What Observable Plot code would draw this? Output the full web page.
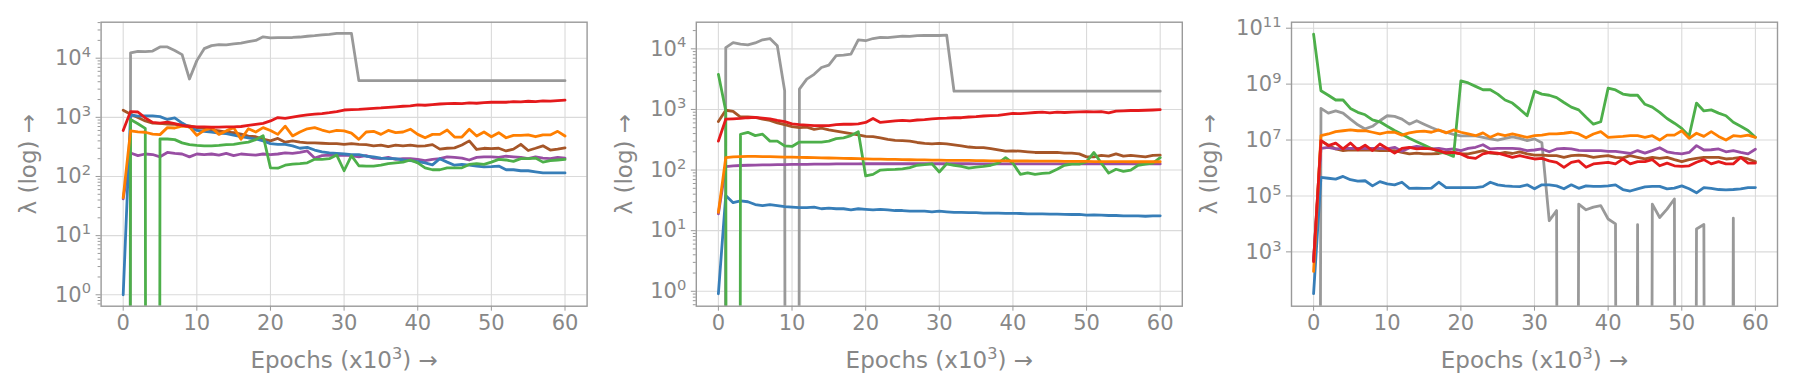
<!DOCTYPE html>
<html><head><meta charset="utf-8">
<script src="https://cdn.jsdelivr.net/npm/d3@7"></script>
<script src="https://cdn.jsdelivr.net/npm/@observablehq/plot@0.6"></script>
<style>
html,body{margin:0;padding:0;background:#fff;}
#fig{display:flex;width:1794px;height:388px;overflow:hidden;}
#fig svg{display:block;flex:none;}
</style></head><body><div id="fig"></div>
<script>
// ---------- data ----------
const epochs = [0,1,2,3,4,5,6,7,8,9,10,11,12,13,14,15,16,17,18,19,20,21,22,23,24,25,26,27,28,29,30,31,32,33,34,35,36,37,38,39,40,41,42,43,44,45,46,47,48,49,50,51,52,53,54,55,56,57,58,59,60];
const xTicks = [0,10,20,30,40,50,60];
const seriesNames = ["series G","series F","series D","series B","series C","series E","series A"];
const seriesColors = ["#999999","#a65628","#984ea3","#377eb8","#4daf4a","#ff7f00","#e41a1c"];
const xLabel = "Epochs (x10\u00b3) \u2192";
const yLabel = "\u03bb (log) \u2192";

// panel 1
const p1Gray = [0,12300,13000,12900,13200,15500,15500,13500,11500,4450,
  9100,14500,16300,17000,16800,17500,18000,19000,20000,23000,
  22000,22300,22300,22400,22800,23500,24000,24800,25300,26200,
  26300,26300,4170,4170,4170,4170,4170,4170,4170,4170,
  4170,4170,4170,4170,4170,4170,4170,4170,4170,4170,
  4170,4170,4170,4170,4170,4170,4170,4170,4170,4170,4170];
const p1Red = [600,1250,1230,980,820,800,830,780,730,700,
  690,690,680,685,690,690,700,730,760,790,
  870,990,960,1010,1060,1100,1130,1160,1200,1250,
  1330,1350,1360,1390,1420,1440,1470,1500,1540,1560,
  1620,1600,1640,1680,1700,1720,1700,1750,1730,1770,
  1800,1810,1800,1850,1830,1870,1850,1900,1880,1920,1950];
const p1Orange = [44,590,570,560,520,510,670,660,710,690,
  495,600,670,515,590,670,425,640,565,670,
  600,515,710,485,565,640,670,610,565,600,
  590,540,424,565,580,515,600,550,565,630,
  515,452,515,515,610,464,464,630,483,565,
  470,550,452,495,495,505,470,505,505,580,483];
const p1Brown = [1320,1130,990,870,800,790,770,760,740,714,
  670,650,611,590,560,550,520,480,470,430,
  400,440,380,400,380,370,370,365,360,360,
  350,360,350,345,330,340,320,340,330,340,
  326,330,345,290,300,305,340,400,286,300,
  295,300,270,290,350,275,300,330,280,290,305];
const p1Blue = [1.0,1100,1050,1060,1060,1030,920,980,800,680,
  600,580,560,540,530,500,470,450,430,400,
  360,350,350,330,300,310,280,260,250,245,
  240,235,235,220,215,205,200,200,190,185,
  178,170,157,200,175,155,160,155,150,145,
  147,150,130,130,125,125,120,115,115,115,115];
const p1Purple = [42,250,225,240,235,215,255,245,240,215,
  240,235,240,230,245,225,240,235,230,240,
  235,240,250,245,255,270,205,225,230,225,
  230,225,215,225,205,200,210,195,200,200,
  195,185,195,200,215,210,205,190,210,215,
  215,210,220,215,210,200,215,205,200,210,205];
const p1Green = [0,920,780,650,0,430,430,420,370,345,
  335,330,330,335,345,350,365,380,420,490,
  140,138,155,162,165,170,195,195,200,230,
  125,225,152,150,150,155,165,170,175,190,
  170,140,130,130,140,140,140,160,165,160,
  175,195,190,180,200,200,205,175,185,190,195];

// panel 2
const p2Gray = [0,10500,12700,12000,11600,12500,14100,14800,11200,2040,
  0,2160,3170,3800,4920,5400,7700,7900,8200,14100,
  13600,14800,15500,15300,15800,16200,16000,16500,16700,16600,
  16600,16800,2000,2000,2000,2000,2000,2000,2000,2000,
  2000,2000,2000,2000,2000,2000,2000,2000,2000,2000,
  2000,2000,2000,2000,2000,2000,2000,2000,2000,2000,2000];
const p2Red = [300,690,700,710,730,740,720,700,660,630,
  580,560,550,540,540,540,560,570,570,580,
  610,710,610,630,650,660,650,670,680,700,
  715,720,730,730,750,760,780,790,800,830,
  860,850,870,890,900,880,900,890,900,910,
  920,910,920,880,940,950,960,960,970,980,990];
const p2Brown = [630,970,930,750,750,740,690,660,600,560,
  520,500,510,470,490,460,440,420,400,380,
  360,355,340,320,310,305,300,285,275,270,
  275,270,260,250,240,235,235,225,215,205,
  208,205,200,195,195,195,195,190,190,185,
  165,165,175,170,185,170,175,170,165,175,176];
const p2Green = [3800,950,0,390,420,370,390,300,300,250,
  245,290,290,290,290,300,330,340,370,430,
  80,85,100,102,103,105,110,120,123,127,
  93,127,120,115,108,112,115,120,130,160,
  130,85,90,85,88,90,103,120,125,125,
  138,195,130,89,103,95,100,120,125,130,160];
const p2Orange = [20,160,165,167,168,168,167,166,165,164,
  163,162,161,160,159,158,157,156,155,154,
  153,152,151,150,150,149,148,147,147,146,
  146,145,145,144,144,143,143,142,142,142,
  141,141,141,140,140,140,140,139,139,139,
  139,138,138,138,138,138,137,137,137,137,137];
const p2Purple = [19,114,117,119,120,121,122,122,123,123,
  124,124,124,125,125,125,126,126,126,126,
  127,127,127,127,127,127,127,127,127,127,
  127,127,127,127,127,126,126,126,126,126,
  126,126,126,126,126,126,126,126,126,126,
  126,126,126,126,126,126,126,126,126,126,126];
const p2Blue = [0.91,38,29,31,30,27,26,27,26,25,
  24.5,24,24,24.5,23,23.5,23,23,22,23,
  22.5,22,22.5,22,21.5,21.5,21,21,21,20.5,
  21,20.5,20,20,19.8,19.8,19.5,19.5,19.5,19.3,
  19.3,19.2,19,19,19,18.8,18.8,18.6,18.5,18.5,
  18,18.2,18,17.8,17.8,17.5,17.5,17.5,17.3,17.5,17.6];

// panel 3
const p3Green = [6.1e10,5.8e8,4e8,2.7e8,2.7e8,1.35e8,9.8e7,8e7,5.3e7,4.5e7,
  3.1e7,2.2e7,1.6e7,1.15e7,8.7e6,6.6e6,5e6,3.8e6,3.3e6,2.6e6,
  1.3e9,1.1e9,8.3e8,6.3e8,6.3e8,4.4e8,2.7e8,2.1e8,1.27e8,7.4e7,
  5.6e8,4.4e8,4e8,3.3e8,2.2e8,1.5e8,1.2e8,6.5e7,3.7e7,4.5e7,
  7.2e8,6.2e8,4.4e8,4e8,4e8,1.9e8,1.5e8,9.8e7,5.9e7,4e7,
  2.6e7,1.4e7,2.1e8,1.1e8,1.2e8,9.2e7,7.4e7,4.3e7,3.1e7,2.2e7,1.25e7];
const p3Gray = [0,1.35e8,9.2e7,1.1e8,9.2e7,5.6e7,3.5e7,2.5e7,3.1e7,4.9e7,
  7.4e7,7e7,5.6e7,3.7e7,4.9e7,3.7e7,2.8e7,2.2e7,1.9e7,1.6e7,
  1.4e7,1.4e7,1.4e7,1.25e7,1.1e7,1e7,1.15e7,1.3e7,1.15e7,9.6e6,
  1.1e7,8e6,1.3e4,3e4,0,0,5.1e4,3.2e4,4e4,4.5e4,
  1.5e4,1e4,0,0,9.5e3,0,5.1e4,1.7e4,3.4e4,7.8e4,
  0,0,6.6e3,9.5e3,0,0,0,1.6e4,0,0,0];
const p3Orange = [200,1.43e7,1.65e7,2e7,2.15e7,2.3e7,2.15e7,2.15e7,1.9e7,1.65e7,
  1.9e7,1.9e7,1.5e7,1.8e7,2e7,2.1e7,1.9e7,2.3e7,1.8e7,2.3e7,
  1.9e7,1.65e7,1.43e7,1.8e7,1.25e7,1.65e7,1.43e7,1.65e7,1.43e7,1.25e7,
  1.43e7,1.5e7,1.65e7,1.65e7,1.75e7,1.9e7,1.65e7,1.2e7,1.65e7,2e7,
  1.25e7,1.3e7,1.35e7,1.43e7,1.43e7,1.25e7,1.43e7,1e7,1.5e7,1.5e7,
  2.15e7,1.15e7,1.75e7,1.35e7,2e7,1.35e7,1e7,1.43e7,1.35e7,1.5e7,1.25e7];
const p3Purple = [500,5e6,5.5e6,4.8e6,5e6,5e6,5e6,5e6,5e6,5e6,
  4.8e6,5.5e6,4e6,5.2e6,5.9e6,5.5e6,4.8e6,5e6,4.5e6,4.8e6,
  4.2e6,5e6,5.5e6,6.8e6,4.8e6,5e6,5e6,5e6,4.8e6,4.2e6,
  4.4e6,4.8e6,3.8e6,4.8e6,5e6,4.8e6,4.3e6,4.2e6,4.2e6,4.2e6,
  3.9e6,3.9e6,3.6e6,3.3e6,4.2e6,3.4e6,4.2e6,5.3e6,3.8e6,3.4e6,
  3.2e6,3.6e6,6.3e6,4.4e6,4.5e6,4.8e6,3.8e6,4.2e6,3.6e6,3.2e6,4.7e6];
const p3Brown = [500,9.5e6,6.6e6,4.8e6,4.2e6,4.5e6,4.4e6,4.4e6,4.4e6,4.2e6,
  4.2e6,4.2e6,3.6e6,3.2e6,3.4e6,3.2e6,3.2e6,3.3e6,3.8e6,3.6e6,
  3.2e6,3.2e6,3.6e6,4.2e6,3.4e6,3.2e6,3.6e6,3.3e6,3.8e6,3.2e6,
  2.9e6,2.9e6,2.75e6,2.75e6,2.4e6,2.75e6,2.9e6,2.75e6,2.4e6,2.6e6,
  2.75e6,2.4e6,2.3e6,2.75e6,2.4e6,2.1e6,2.4e6,2.2e6,2.4e6,2e6,
  1.7e6,2e6,2.2e6,2.4e6,2.4e6,2.4e6,2.1e6,2.2e6,2.4e6,2.1e6,1.7e6];
const p3Red = [450,9.5e6,6.3e6,7.8e6,4.8e6,7.8e6,4.5e6,6.6e6,4.2e6,7.2e6,
  5e6,3.4e6,5e6,5.5e6,4.8e6,5e6,4.8e6,4.2e6,3.4e6,3.6e6,
  3.2e6,2.4e6,2.2e6,3.2e6,3.6e6,3.4e6,2.9e6,2.4e6,2.75e6,2.4e6,
  2.1e6,2.2e6,1.8e6,1.6e6,1.06e6,1.6e6,1.8e6,1.06e6,1.4e6,1.5e6,
  1.6e6,1.4e6,2.1e6,1.4e6,1.7e6,1.7e6,2e6,1.2e6,1.5e6,1.2e6,
  1.15e6,1.2e6,1.6e6,2e6,1.4e6,1.7e6,1.4e6,1.4e6,2.4e6,1.5e6,1.5e6];
const p3Blue = [32,4.6e5,4.3e5,4e5,5e5,3.8e5,3.4e5,3.5e5,2.3e5,3.25e5,
  2.7e5,2.5e5,3.1e5,1.87e5,1.9e5,1.87e5,1.9e5,3.1e5,2e5,2e5,
  2e5,2e5,2e5,2.15e5,3.1e5,2.5e5,2.3e5,2.2e5,2.15e5,2.5e5,
  1.8e5,2.5e5,2.5e5,2.3e5,1.8e5,2.5e5,1.87e5,2.3e5,2.2e5,2.2e5,
  2.3e5,2.5e5,1.7e5,1.5e5,1.8e5,2.1e5,2.2e5,2.2e5,1.8e5,1.9e5,
  2.3e5,1.8e5,1.3e5,2e5,1.87e5,1.7e5,1.65e5,1.7e5,1.8e5,2e5,2e5];

const p1Major = [1e0,1e1,1e2,1e3,1e4];
const p2Major = [1e0,1e1,1e2,1e3,1e4];
const p3Major = [1e3,1e5,1e7,1e9,1e11];

// ---------- build ----------
const SUP = {"0":"\u2070","1":"\u00b9","2":"\u00b2","3":"\u00b3","4":"\u2074","5":"\u2075","6":"\u2076","7":"\u2077","8":"\u2078","9":"\u2079","-":"\u207b"};
const UNSUP = Object.fromEntries(Object.entries(SUP).map(([k, v]) => [v, k]));
const fmtPow = d => "10" + String(Math.round(Math.log10(d))).split("").map(c => SUP[c]).join("");

function minorTicks(domain) {
  const out = [];
  for (let e = Math.floor(Math.log10(domain[0])); e <= Math.ceil(Math.log10(domain[1])); e++) {
    for (let m = 2; m <= 9; m++) {
      const v = m * Math.pow(10, e);
      if (v >= domain[0] && v <= domain[1]) out.push(v);
    }
  }
  return out;
}

function table(seriesList) {
  const rows = [];
  seriesList.forEach((vals, k) => {
    vals.forEach((v, i) => rows.push({epoch: epochs[i], value: v, series: seriesNames[k]}));
  });
  return rows;
}

// turn unicode superscript runs into raised, smaller tspans (mathtext look)
function raiseSuperscripts(svg) {
  svg.querySelectorAll("text").forEach(t => {
    const targets = t.querySelectorAll("tspan").length ? Array.from(t.querySelectorAll("tspan")) : [t];
    targets.forEach(node => {
      const s = node.textContent;
      if (!/[\u2070\u00b9\u00b2\u00b3\u2074-\u2079\u207b]/.test(s)) return;
      const parts = s.match(/([\u2070\u00b9\u00b2\u00b3\u2074-\u2079\u207b]+|[^\u2070\u00b9\u00b2\u00b3\u2074-\u2079\u207b]+)/g);
      node.textContent = "";
      const NS = "http://www.w3.org/2000/svg";
      let raised = false;
      parts.forEach(part => {
        const sp = document.createElementNS(NS, "tspan");
        const isSup = UNSUP[part[0]] !== undefined;
        if (isSup) {
          sp.textContent = part.split("").map(c => UNSUP[c]).join("");
          sp.setAttribute("font-size", "0.7em");
          sp.setAttribute("dy", "-0.55em");
          raised = true;
        } else {
          sp.textContent = part;
          if (raised) { sp.setAttribute("dy", "0.385em"); raised = false; }
        }
        node.appendChild(sp);
      });
    });
  });
}

const W = 598, H = 388, FW = 486, MT = 21.7, MB = H - 305.7;
const TICKFS = 21, LABFS = 23;

const panels = [
  {series: [p1Gray,p1Brown,p1Purple,p1Blue,p1Green,p1Orange,p1Red], domain: [0.641, 40600], major: p1Major, minor: true, left: 100.6, ylx: -72.6},
  {series: [p2Gray,p2Brown,p2Purple,p2Blue,p2Green,p2Orange,p2Red], domain: [0.5675, 27500], major: p2Major, minor: true, left: 97.8, ylx: -72},
  {series: [p3Gray,p3Brown,p3Purple,p3Blue,p3Green,p3Orange,p3Red], domain: [11.4, 1.64e11], major: p3Major, minor: false, left: 95, ylx: -82}
];

const fig = document.getElementById("fig");
const GRID = "#dadada", SPINE = "#9a9a9a", TXT = "#878787";

for (const p of panels) {
  const marks = [
    Plot.gridX({ticks: xTicks, stroke: GRID, strokeOpacity: 1, strokeWidth: 1.1}),
    Plot.gridY({ticks: p.major, stroke: GRID, strokeOpacity: 1, strokeWidth: 1.1}),
    Plot.line(table(p.series), {
      x: "epoch",
      y: d => Math.max(d.value, 1e-100),
      z: "series",
      stroke: "series",
      strokeWidth: 2.8,
      strokeLinejoin: "round",
      clip: true
    }),
    Plot.axisX({ticks: xTicks, tickSize: 5, tickPadding: 4, fontSize: TICKFS, stroke: SPINE, label: null}),
    Plot.axisY({ticks: p.major, tickFormat: fmtPow, tickSize: 5, tickPadding: 5, fontSize: TICKFS, stroke: SPINE, label: null}),
    Plot.text([xLabel], {frameAnchor: "bottom", dy: 54, text: d => d, fontSize: LABFS, lineAnchor: "middle", fill: TXT}),
    Plot.text([yLabel], {frameAnchor: "left", dx: p.ylx, rotate: -90, text: d => d, fontSize: LABFS, lineAnchor: "middle", textAnchor: "middle", fill: TXT}),
    Plot.frame({stroke: SPINE, strokeWidth: 1.4})
  ];
  if (p.minor) {
    marks.splice(4, 0, Plot.axisY({ticks: minorTicks(p.domain), tickFormat: () => "", tickSize: 3, stroke: SPINE, label: null}));
  }
  const svg = Plot.plot({
    width: W, height: H,
    marginLeft: p.left, marginRight: W - p.left - FW, marginTop: MT, marginBottom: MB,
    x: {type: "linear", domain: [-3, 63]},
    y: {type: "log", domain: p.domain},
    color: {type: "ordinal", domain: seriesNames, range: seriesColors},
    style: {fontFamily: "'DejaVu Sans', sans-serif", fontSize: "20px", color: TXT, background: "#fff", overflow: "visible"},
    marks
  });
  raiseSuperscripts(svg);
  fig.appendChild(svg);
}
</script>
</body></html>
